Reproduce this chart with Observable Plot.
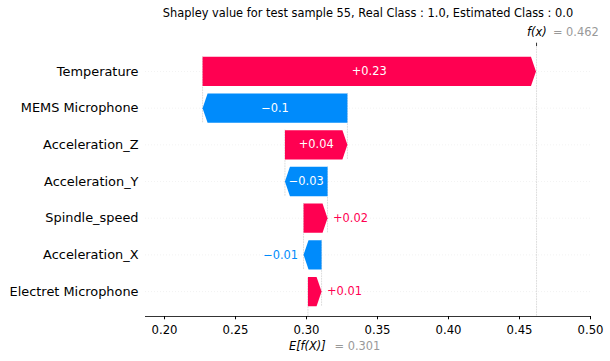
<!DOCTYPE html>
<html>
<head>
<meta charset="utf-8">
<script src="https://cdn.jsdelivr.net/npm/d3@7"></script>
<script src="https://cdn.jsdelivr.net/npm/@observablehq/plot@0.6"></script>
<style>
  html, body { margin: 0; padding: 0; background: #fff; }
</style>
</head>
<body>
<div id="chart"></div>
<script>
// Features listed bottom-to-top (row index 0 = bottom)
const features = ["Electret Microphone", "Acceleration_X", "Spindle_speed", "Acceleration_Y", "Acceleration_Z", "MEMS Microphone", "Temperature"];
const shapValues = [0.0096, -0.0127, 0.0169, -0.0300, 0.0440, -0.1020, 0.2348];
const baseValue = 0.301;
const fxValue = 0.462;
const xTicks = [0.20, 0.25, 0.30, 0.35, 0.40, 0.45, 0.50];
const xDomain = [0.1866, 0.5];
const yDomain = [-0.68, 6.68];
const titleText = "Shapley value for test sample 55, Real Class : 1.0, Estimated Class : 0.0";

const W = 610, H = 361;
const mL = 145, mR = 20, mT = 46, mB = 45;
const posColor = "#ff0051", negColor = "#008bfb";
const pxPerX = (W - mL - mR) / (xDomain[1] - xDomain[0]);
const yPerPx = (yDomain[1] - yDomain[0]) / (H - mT - mB);
const headLen = 5 / pxPerX;
const half = 0.4;

const fmt = v => d3.format("+.2f")(v).replace(/\.?0+$/, "");

// cumulative bars
let acc = baseValue;
const bars = features.map((f, i) => {
  const v = shapValues[i];
  const start = acc, end = acc + v;
  acc = end;
  const label = fmt(v);
  const textPx = label.length * 0.62 * 11.3;
  const inside = Math.abs(v) * pxPerX > textPx + 4;
  return {feature: f, row: i, v, start, end, label, inside, mid: (start + end) / 2};
});

// arrow polygons
const poly = [];
for (const b of bars) {
  const s = Math.sign(b.v);
  const hl = Math.min(headLen, Math.abs(b.v));
  const neck = b.end - s * hl;
  [[b.start, b.row + half], [neck, b.row + half], [b.end, b.row], [neck, b.row - half], [b.start, b.row - half], [b.start, b.row + half]]
    .forEach(([x, y]) => poly.push({feature: b.feature, pos: b.v >= 0, x, y}));
}

// connectors between consecutive rows
const connectors = bars.slice(0, -1).map(b => ({x: b.end, y1: b.row - half, y2: b.row + 1 + half}));

const plot = Plot.plot({
  width: W, height: H,
  marginLeft: mL, marginRight: mR, marginTop: mT, marginBottom: mB,
  style: {fontFamily: "DejaVu Sans", color: "black", background: "white", overflow: "visible"},
  x: {domain: xDomain},
  y: {domain: yDomain},
  marks: [
    Plot.ruleY(d3.range(features.length), {stroke: "#cccccc", strokeWidth: 0.5, strokeDasharray: "0.5,2.5"}),
    Plot.ruleX([fxValue], {stroke: "#bbbbbb", strokeWidth: 0.5, strokeDasharray: "1.8,0.8"}),
    Plot.ruleX([baseValue], {y1: yDomain[0], y2: yDomain[0] + (yDomain[1] - yDomain[0]) / features.length, stroke: "#bbbbbb", strokeWidth: 0.5, strokeDasharray: "1.8,0.8"}),
    Plot.ruleX(connectors, {x: "x", y1: "y1", y2: "y2", stroke: "#bbbbbb", strokeWidth: 0.5, strokeDasharray: "1.8,0.8"}),
    Plot.line(poly.filter(d => d.pos), {x: "x", y: "y", z: "feature", fill: posColor, stroke: "none", curve: "linear"}),
    Plot.line(poly.filter(d => !d.pos), {x: "x", y: "y", z: "feature", fill: negColor, stroke: "none", curve: "linear"}),
    Plot.text(bars.filter(b => b.inside), {x: "mid", y: "row", text: "label", fill: "white", fontSize: 11.4}),
    Plot.text(bars.filter(b => !b.inside && b.v >= 0), {x: "end", y: "row", text: "label", fill: posColor, fontSize: 11.4, textAnchor: "start", dx: 5.5}),
    Plot.text(bars.filter(b => !b.inside && b.v < 0), {x: "end", y: "row", text: "label", fill: negColor, fontSize: 11.4, textAnchor: "end", dx: -5.5}),
    Plot.ruleY([yDomain[0]], {stroke: "black", strokeWidth: 0.8}),
    Plot.ruleX([fxValue], {y1: yDomain[1], y2: yDomain[1] + 3.3 * yPerPx, stroke: "black", strokeWidth: 0.8}),
    Plot.axisX({ticks: xTicks, tickFormat: d3.format(".2f"), tickSize: 3.3, tickPadding: 6, fontSize: 11.7, label: null}),
    Plot.axisY({ticks: d3.range(features.length), tickFormat: i => features[i], tickSize: 0, tickPadding: 7, fontSize: 12.9, label: null}),
    Plot.text([titleText], {frameAnchor: "top", lineAnchor: "middle", dy: -33, fontSize: 11.4, fill: "black"}),
    Plot.text(["f(x)"], {x: fxValue, frameAnchor: "top", lineAnchor: "middle", dy: -14.5, dx: -9.5, textAnchor: "start", fontStyle: "italic", fontSize: 11.4, fill: "black"}),
    Plot.text(["= " + fxValue.toFixed(3)], {x: fxValue, frameAnchor: "top", lineAnchor: "middle", dy: -14.5, dx: 16.4, textAnchor: "start", fontSize: 11.4, fill: "#999999"}),
    Plot.text(["E[f(X)]"], {x: baseValue, frameAnchor: "bottom", lineAnchor: "middle", dy: 29.7, dx: -19, textAnchor: "start", fontStyle: "italic", fontSize: 11.4, fill: "black"}),
    Plot.text(["= " + baseValue.toFixed(3)], {x: baseValue, frameAnchor: "bottom", lineAnchor: "middle", dy: 29.7, dx: 26.6, textAnchor: "start", fontSize: 11.4, fill: "#999999"})
  ]
});
document.getElementById("chart").appendChild(plot);
</script>
</body>
</html>
